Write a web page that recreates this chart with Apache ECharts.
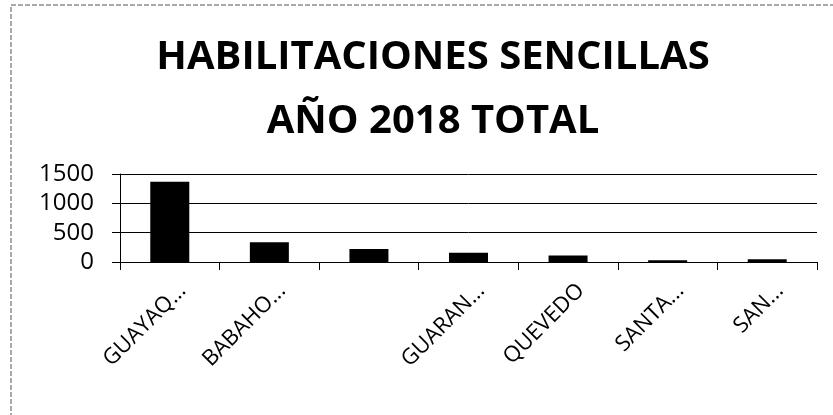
<!DOCTYPE html>
<html>
<head>
<meta charset="utf-8">
<script src="https://cdn.jsdelivr.net/npm/echarts@6/dist/echarts.min.js"></script>
<style>
  html, body { margin: 0; padding: 0; background: #fff; }
  #chart { width: 833px; height: 415px; }
</style>
</head>
<body>
<div id="chart"></div>
<script>
// categories as printed under the axis (third label is not shown in the picture)
var ciudades = ['GUAYAQ...', 'BABAHO...', '', 'GUARAN...', 'QUEVEDO', 'SANTA...', 'SAN...'];
var habitaciones = [1369, 337, 221, 157, 110, 28, 45];
var yTicks = [0, 500, 1000, 1500];

var myChart = echarts.init(document.getElementById('chart'));
var option = {
    backgroundColor: '#fff',
    animation: false,
    title: {
        text: 'HABILITACIONES SENCILLAS\nAÑO 2018 TOTAL',
        left: 428,
        textAlign: 'center',
        top: 21,
        textStyle: {
            fontFamily: 'Open Sans',
            fontWeight: 'bold',
            fontSize: 40,
            lineHeight: 64,
            color: '#000'
        }
    },
    graphic: [{
        type: 'rect',
        silent: true,
        shape: { x: 11, y: 5, width: 900, height: 500 },
        style: { fill: 'none', stroke: '#555', lineWidth: 1, lineDash: [5, 2] }
    }],
    grid: {
        left: 120,
        right: 16,
        top: 174,
        bottom: 153
    },
    xAxis: {
        type: 'category',
        data: ciudades,
        axisLine: { lineStyle: { color: '#000', width: 1 } },
        axisTick: { show: true, alignWithLabel: false, length: 8, lineStyle: { color: '#000' } },
        axisLabel: {
            interval: 0,
            rotate: 45,
            margin: 38,
            padding: [0, -18, 0, 0],
            color: '#000',
            fontFamily: 'Open Sans',
            fontSize: 22
        }
    },
    yAxis: {
        type: 'value',
        min: yTicks[0],
        max: yTicks[yTicks.length - 1],
        interval: 500,
        axisLine: { show: true, lineStyle: { color: '#000', width: 1 } },
        axisTick: { show: true, length: 8, lineStyle: { color: '#000' } },
        splitLine: { lineStyle: { color: '#000', width: 1 } },
        axisLabel: {
            margin: 26,
            color: '#000',
            fontFamily: 'Open Sans',
            fontSize: 24,
            formatter: function (v) { return String(v); }
        }
    },
    series: [{
        type: 'bar',
        data: habitaciones,
        barWidth: 39,
        itemStyle: { color: '#000' }
    }]
};
myChart.setOption(option);
</script>
</body>
</html>
